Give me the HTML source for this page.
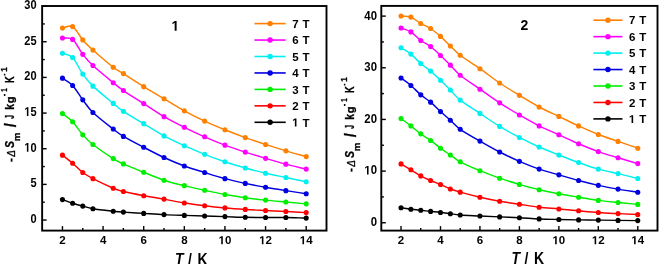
<!DOCTYPE html>
<html><head><meta charset="utf-8"><style>
html,body{margin:0;padding:0;background:#fff;width:659px;height:264px;overflow:hidden}
svg{display:block;filter:blur(0.3px)}
text{font-family:"Liberation Sans", sans-serif;fill:#000}
.tk{font-size:11.5px;font-weight:bold}
.al{font-size:14px;font-weight:bold}
.yl{font-size:13px;font-weight:bold}
.num{font-size:14px;font-weight:bold}
.lg{font-size:11.5px;font-weight:bold}
</style></head><body>
<svg width="659" height="264" viewBox="0 0 659 264">
<rect width="659" height="264" fill="#fff"/>
<path d="M62.46,199.61 C65.85,200.81 69.23,202.15 72.62,203.23 C76,204.31 79.39,205.16 82.77,206.08 C86.16,206.99 87.85,207.85 92.93,208.71 C98,209.56 108.16,210.63 113.24,211.19 C118.32,211.76 118.32,211.75 123.39,212.12 C128.47,212.49 136.93,212.98 143.7,213.4 C150.47,213.81 157.24,214.28 164.01,214.61 C170.78,214.94 177.55,215.15 184.33,215.39 C191.1,215.63 197.87,215.83 204.64,216.03 C211.41,216.23 218.18,216.38 224.95,216.6 C231.72,216.81 238.49,217.16 245.26,217.31 C252.03,217.46 258.8,217.49 265.57,217.52 C272.34,217.56 279.11,217.43 285.88,217.52 C292.65,217.62 299.42,217.9 306.19,218.09" fill="none" stroke="#000000" stroke-width="1.45" stroke-linejoin="round"/>
<circle cx="62.46" cy="199.61" r="2.55" fill="#000000"/>
<circle cx="72.62" cy="203.23" r="2.55" fill="#000000"/>
<circle cx="82.77" cy="206.08" r="2.55" fill="#000000"/>
<circle cx="92.93" cy="208.71" r="2.55" fill="#000000"/>
<circle cx="113.24" cy="211.19" r="2.55" fill="#000000"/>
<circle cx="123.39" cy="212.12" r="2.55" fill="#000000"/>
<circle cx="143.7" cy="213.4" r="2.55" fill="#000000"/>
<circle cx="164.01" cy="214.61" r="2.55" fill="#000000"/>
<circle cx="184.33" cy="215.39" r="2.55" fill="#000000"/>
<circle cx="204.64" cy="216.03" r="2.55" fill="#000000"/>
<circle cx="224.95" cy="216.6" r="2.55" fill="#000000"/>
<circle cx="245.26" cy="217.31" r="2.55" fill="#000000"/>
<circle cx="265.57" cy="217.52" r="2.55" fill="#000000"/>
<circle cx="285.88" cy="217.52" r="2.55" fill="#000000"/>
<circle cx="306.19" cy="218.09" r="2.55" fill="#000000"/>
<path d="M62.46,155.17 C65.85,157.85 69.23,160.31 72.62,163.2 C76,166.09 79.39,169.94 82.77,172.52 C86.16,175.09 87.85,176.01 92.93,178.63 C98,181.25 108.16,186.07 113.24,188.23 C118.32,190.39 118.32,190.33 123.39,191.57 C128.47,192.82 136.93,194.44 143.7,195.69 C150.47,196.95 157.24,197.89 164.01,199.11 C170.78,200.33 177.55,201.9 184.33,203.02 C191.1,204.13 197.87,204.97 204.64,205.79 C211.41,206.61 218.18,207.32 224.95,207.92 C231.72,208.53 238.49,208.99 245.26,209.42 C252.03,209.84 258.8,210.14 265.57,210.48 C272.34,210.83 279.11,211.12 285.88,211.48 C292.65,211.83 299.42,212.24 306.19,212.62" fill="none" stroke="#FF0000" stroke-width="1.45" stroke-linejoin="round"/>
<circle cx="62.46" cy="155.17" r="2.55" fill="#FF0000"/>
<circle cx="72.62" cy="163.2" r="2.55" fill="#FF0000"/>
<circle cx="82.77" cy="172.52" r="2.55" fill="#FF0000"/>
<circle cx="92.93" cy="178.63" r="2.55" fill="#FF0000"/>
<circle cx="113.24" cy="188.23" r="2.55" fill="#FF0000"/>
<circle cx="123.39" cy="191.57" r="2.55" fill="#FF0000"/>
<circle cx="143.7" cy="195.69" r="2.55" fill="#FF0000"/>
<circle cx="164.01" cy="199.11" r="2.55" fill="#FF0000"/>
<circle cx="184.33" cy="203.02" r="2.55" fill="#FF0000"/>
<circle cx="204.64" cy="205.79" r="2.55" fill="#FF0000"/>
<circle cx="224.95" cy="207.92" r="2.55" fill="#FF0000"/>
<circle cx="245.26" cy="209.42" r="2.55" fill="#FF0000"/>
<circle cx="265.57" cy="210.48" r="2.55" fill="#FF0000"/>
<circle cx="285.88" cy="211.48" r="2.55" fill="#FF0000"/>
<circle cx="306.19" cy="212.62" r="2.55" fill="#FF0000"/>
<path d="M62.46,113.57 C65.85,116.32 69.23,118.28 72.62,121.82 C76,125.37 79.39,131.05 82.77,134.83 C86.16,138.61 87.85,140.54 92.93,144.5 C98,148.46 108.16,155.35 113.24,158.58 C118.32,161.82 118.32,161.63 123.39,163.91 C128.47,166.2 136.93,169.59 143.7,172.3 C150.47,175.02 157.24,177.97 164.01,180.19 C170.78,182.42 177.55,183.99 184.33,185.67 C191.1,187.35 197.87,188.82 204.64,190.29 C211.41,191.76 218.18,193.25 224.95,194.49 C231.72,195.72 238.49,196.75 245.26,197.69 C252.03,198.62 258.8,199.38 265.57,200.1 C272.34,200.83 279.11,201.39 285.88,202.02 C292.65,202.65 299.42,203.26 306.19,203.87" fill="none" stroke="#00EE00" stroke-width="1.45" stroke-linejoin="round"/>
<circle cx="62.46" cy="113.57" r="2.55" fill="#00EE00"/>
<circle cx="72.62" cy="121.82" r="2.55" fill="#00EE00"/>
<circle cx="82.77" cy="134.83" r="2.55" fill="#00EE00"/>
<circle cx="92.93" cy="144.5" r="2.55" fill="#00EE00"/>
<circle cx="113.24" cy="158.58" r="2.55" fill="#00EE00"/>
<circle cx="123.39" cy="163.91" r="2.55" fill="#00EE00"/>
<circle cx="143.7" cy="172.3" r="2.55" fill="#00EE00"/>
<circle cx="164.01" cy="180.19" r="2.55" fill="#00EE00"/>
<circle cx="184.33" cy="185.67" r="2.55" fill="#00EE00"/>
<circle cx="204.64" cy="190.29" r="2.55" fill="#00EE00"/>
<circle cx="224.95" cy="194.49" r="2.55" fill="#00EE00"/>
<circle cx="245.26" cy="197.69" r="2.55" fill="#00EE00"/>
<circle cx="265.57" cy="200.1" r="2.55" fill="#00EE00"/>
<circle cx="285.88" cy="202.02" r="2.55" fill="#00EE00"/>
<circle cx="306.19" cy="203.87" r="2.55" fill="#00EE00"/>
<path d="M62.46,78.17 C65.85,80.61 69.23,81.88 72.62,85.49 C76,89.1 79.39,95.35 82.77,99.85 C86.16,104.36 87.85,107.64 92.93,112.51 C98,117.38 108.16,125.09 113.24,129.07 C118.32,133.06 118.32,133.36 123.39,136.4 C128.47,139.43 136.93,143.76 143.7,147.28 C150.47,150.8 157.24,154.4 164.01,157.51 C170.78,160.63 177.55,163.47 184.33,165.98 C191.1,168.48 197.87,170.41 204.64,172.52 C211.41,174.63 218.18,176.82 224.95,178.63 C231.72,180.44 238.49,181.95 245.26,183.39 C252.03,184.84 258.8,186.1 265.57,187.31 C272.34,188.51 279.11,189.58 285.88,190.65 C292.65,191.71 299.42,192.68 306.19,193.7" fill="none" stroke="#0000E0" stroke-width="1.45" stroke-linejoin="round"/>
<circle cx="62.46" cy="78.17" r="2.55" fill="#0000E0"/>
<circle cx="72.62" cy="85.49" r="2.55" fill="#0000E0"/>
<circle cx="82.77" cy="99.85" r="2.55" fill="#0000E0"/>
<circle cx="92.93" cy="112.51" r="2.55" fill="#0000E0"/>
<circle cx="113.24" cy="129.07" r="2.55" fill="#0000E0"/>
<circle cx="123.39" cy="136.4" r="2.55" fill="#0000E0"/>
<circle cx="143.7" cy="147.28" r="2.55" fill="#0000E0"/>
<circle cx="164.01" cy="157.51" r="2.55" fill="#0000E0"/>
<circle cx="184.33" cy="165.98" r="2.55" fill="#0000E0"/>
<circle cx="204.64" cy="172.52" r="2.55" fill="#0000E0"/>
<circle cx="224.95" cy="178.63" r="2.55" fill="#0000E0"/>
<circle cx="245.26" cy="183.39" r="2.55" fill="#0000E0"/>
<circle cx="265.57" cy="187.31" r="2.55" fill="#0000E0"/>
<circle cx="285.88" cy="190.65" r="2.55" fill="#0000E0"/>
<circle cx="306.19" cy="193.7" r="2.55" fill="#0000E0"/>
<path d="M62.46,53.21 C65.85,54.63 69.23,53.99 72.62,57.48 C76,60.96 79.39,69.34 82.77,74.11 C86.16,78.89 87.85,81.25 92.93,86.13 C98,91.01 108.16,99.2 113.24,103.41 C118.32,107.61 118.32,107.99 123.39,111.37 C128.47,114.75 136.93,119.58 143.7,123.67 C150.47,127.76 157.24,132.23 164.01,135.9 C170.78,139.57 177.55,142.64 184.33,145.71 C191.1,148.78 197.87,151.64 204.64,154.31 C211.41,156.99 218.18,159.5 224.95,161.78 C231.72,164.06 238.49,166.06 245.26,167.97 C252.03,169.87 258.8,171.64 265.57,173.23 C272.34,174.82 279.11,176.07 285.88,177.49 C292.65,178.92 299.42,180.34 306.19,181.76" fill="none" stroke="#00F0F0" stroke-width="1.45" stroke-linejoin="round"/>
<circle cx="62.46" cy="53.21" r="2.55" fill="#00F0F0"/>
<circle cx="72.62" cy="57.48" r="2.55" fill="#00F0F0"/>
<circle cx="82.77" cy="74.11" r="2.55" fill="#00F0F0"/>
<circle cx="92.93" cy="86.13" r="2.55" fill="#00F0F0"/>
<circle cx="113.24" cy="103.41" r="2.55" fill="#00F0F0"/>
<circle cx="123.39" cy="111.37" r="2.55" fill="#00F0F0"/>
<circle cx="143.7" cy="123.67" r="2.55" fill="#00F0F0"/>
<circle cx="164.01" cy="135.9" r="2.55" fill="#00F0F0"/>
<circle cx="184.33" cy="145.71" r="2.55" fill="#00F0F0"/>
<circle cx="204.64" cy="154.31" r="2.55" fill="#00F0F0"/>
<circle cx="224.95" cy="161.78" r="2.55" fill="#00F0F0"/>
<circle cx="245.26" cy="167.97" r="2.55" fill="#00F0F0"/>
<circle cx="265.57" cy="173.23" r="2.55" fill="#00F0F0"/>
<circle cx="285.88" cy="177.49" r="2.55" fill="#00F0F0"/>
<circle cx="306.19" cy="181.76" r="2.55" fill="#00F0F0"/>
<path d="M62.46,38 C65.85,38.47 69.23,36.69 72.62,39.42 C76,42.14 79.39,50 82.77,54.35 C86.16,58.7 87.85,60.78 92.93,65.51 C98,70.24 108.16,78.55 113.24,82.72 C118.32,86.89 118.32,87.05 123.39,90.54 C128.47,94.02 136.93,99.27 143.7,103.62 C150.47,107.97 157.24,112.69 164.01,116.63 C170.78,120.58 177.55,123.93 184.33,127.3 C191.1,130.66 197.87,133.85 204.64,136.82 C211.41,139.8 218.18,142.59 224.95,145.14 C231.72,147.69 238.49,149.91 245.26,152.11 C252.03,154.31 258.8,156.36 265.57,158.37 C272.34,160.37 279.11,162.34 285.88,164.13 C292.65,165.92 299.42,167.44 306.19,169.1" fill="none" stroke="#FF00FF" stroke-width="1.45" stroke-linejoin="round"/>
<circle cx="62.46" cy="38" r="2.55" fill="#FF00FF"/>
<circle cx="72.62" cy="39.42" r="2.55" fill="#FF00FF"/>
<circle cx="82.77" cy="54.35" r="2.55" fill="#FF00FF"/>
<circle cx="92.93" cy="65.51" r="2.55" fill="#FF00FF"/>
<circle cx="113.24" cy="82.72" r="2.55" fill="#FF00FF"/>
<circle cx="123.39" cy="90.54" r="2.55" fill="#FF00FF"/>
<circle cx="143.7" cy="103.62" r="2.55" fill="#FF00FF"/>
<circle cx="164.01" cy="116.63" r="2.55" fill="#FF00FF"/>
<circle cx="184.33" cy="127.3" r="2.55" fill="#FF00FF"/>
<circle cx="204.64" cy="136.82" r="2.55" fill="#FF00FF"/>
<circle cx="224.95" cy="145.14" r="2.55" fill="#FF00FF"/>
<circle cx="245.26" cy="152.11" r="2.55" fill="#FF00FF"/>
<circle cx="265.57" cy="158.37" r="2.55" fill="#FF00FF"/>
<circle cx="285.88" cy="164.13" r="2.55" fill="#FF00FF"/>
<circle cx="306.19" cy="169.1" r="2.55" fill="#FF00FF"/>
<path d="M62.46,28.04 C65.85,27.57 69.23,24.64 72.62,26.62 C76,28.6 79.39,36 82.77,39.91 C86.16,43.83 87.85,45.52 92.93,50.08 C98,54.64 108.16,63.37 113.24,67.29 C118.32,71.21 118.32,70.39 123.39,73.62 C128.47,76.84 136.93,82.43 143.7,86.63 C150.47,90.82 157.24,94.74 164.01,98.79 C170.78,102.83 177.55,107.15 184.33,110.87 C191.1,114.59 197.87,117.96 204.64,121.11 C211.41,124.26 218.18,127.04 224.95,129.79 C231.72,132.53 238.49,135.17 245.26,137.61 C252.03,140.05 258.8,142.23 265.57,144.43 C272.34,146.64 279.11,148.8 285.88,150.83 C292.65,152.86 299.42,154.67 306.19,156.59" fill="none" stroke="#FF8000" stroke-width="1.45" stroke-linejoin="round"/>
<circle cx="62.46" cy="28.04" r="2.55" fill="#FF8000"/>
<circle cx="72.62" cy="26.62" r="2.55" fill="#FF8000"/>
<circle cx="82.77" cy="39.91" r="2.55" fill="#FF8000"/>
<circle cx="92.93" cy="50.08" r="2.55" fill="#FF8000"/>
<circle cx="113.24" cy="67.29" r="2.55" fill="#FF8000"/>
<circle cx="123.39" cy="73.62" r="2.55" fill="#FF8000"/>
<circle cx="143.7" cy="86.63" r="2.55" fill="#FF8000"/>
<circle cx="164.01" cy="98.79" r="2.55" fill="#FF8000"/>
<circle cx="184.33" cy="110.87" r="2.55" fill="#FF8000"/>
<circle cx="204.64" cy="121.11" r="2.55" fill="#FF8000"/>
<circle cx="224.95" cy="129.79" r="2.55" fill="#FF8000"/>
<circle cx="245.26" cy="137.61" r="2.55" fill="#FF8000"/>
<circle cx="265.57" cy="144.43" r="2.55" fill="#FF8000"/>
<circle cx="285.88" cy="150.83" r="2.55" fill="#FF8000"/>
<circle cx="306.19" cy="156.59" r="2.55" fill="#FF8000"/>
<rect x="42.15" y="6" width="284.35" height="224.6" fill="none" stroke="#000" stroke-width="1.9"/>
<line x1="62.46" y1="230.6" x2="62.46" y2="226.1" stroke="#000" stroke-width="1.4"/>
<line x1="82.77" y1="230.6" x2="82.77" y2="228" stroke="#000" stroke-width="1.4"/>
<line x1="103.08" y1="230.6" x2="103.08" y2="226.1" stroke="#000" stroke-width="1.4"/>
<line x1="123.39" y1="230.6" x2="123.39" y2="228" stroke="#000" stroke-width="1.4"/>
<line x1="143.7" y1="230.6" x2="143.7" y2="226.1" stroke="#000" stroke-width="1.4"/>
<line x1="164.01" y1="230.6" x2="164.01" y2="228" stroke="#000" stroke-width="1.4"/>
<line x1="184.33" y1="230.6" x2="184.33" y2="226.1" stroke="#000" stroke-width="1.4"/>
<line x1="204.64" y1="230.6" x2="204.64" y2="228" stroke="#000" stroke-width="1.4"/>
<line x1="224.95" y1="230.6" x2="224.95" y2="226.1" stroke="#000" stroke-width="1.4"/>
<line x1="245.26" y1="230.6" x2="245.26" y2="228" stroke="#000" stroke-width="1.4"/>
<line x1="265.57" y1="230.6" x2="265.57" y2="226.1" stroke="#000" stroke-width="1.4"/>
<line x1="285.88" y1="230.6" x2="285.88" y2="228" stroke="#000" stroke-width="1.4"/>
<line x1="306.19" y1="230.6" x2="306.19" y2="226.1" stroke="#000" stroke-width="1.4"/>
<line x1="42.15" y1="220.05" x2="46.65" y2="220.05" stroke="#000" stroke-width="1.4"/>
<line x1="42.15" y1="202.22" x2="44.75" y2="202.22" stroke="#000" stroke-width="1.4"/>
<line x1="42.15" y1="184.39" x2="46.65" y2="184.39" stroke="#000" stroke-width="1.4"/>
<line x1="42.15" y1="166.56" x2="44.75" y2="166.56" stroke="#000" stroke-width="1.4"/>
<line x1="42.15" y1="148.73" x2="46.65" y2="148.73" stroke="#000" stroke-width="1.4"/>
<line x1="42.15" y1="130.9" x2="44.75" y2="130.9" stroke="#000" stroke-width="1.4"/>
<line x1="42.15" y1="113.07" x2="46.65" y2="113.07" stroke="#000" stroke-width="1.4"/>
<line x1="42.15" y1="95.24" x2="44.75" y2="95.24" stroke="#000" stroke-width="1.4"/>
<line x1="42.15" y1="77.41" x2="46.65" y2="77.41" stroke="#000" stroke-width="1.4"/>
<line x1="42.15" y1="59.58" x2="44.75" y2="59.58" stroke="#000" stroke-width="1.4"/>
<line x1="42.15" y1="41.75" x2="46.65" y2="41.75" stroke="#000" stroke-width="1.4"/>
<line x1="42.15" y1="23.92" x2="44.75" y2="23.92" stroke="#000" stroke-width="1.4"/>
<line x1="42.15" y1="6.09" x2="46.65" y2="6.09" stroke="#000" stroke-width="1.4"/>
<text x="59.26" y="244.2" style="font-size:11.5px;font-weight:bold">2</text>
<text x="99.88" y="244.2" style="font-size:11.5px;font-weight:bold">4</text>
<text x="140.51" y="244.2" style="font-size:11.5px;font-weight:bold">6</text>
<text x="181.13" y="244.2" style="font-size:11.5px;font-weight:bold">8</text>
<path d="M221.23,244.2 L221.23,237.63 L219.34,238.81 L219.34,237.57 L221.32,236.29 L222.81,236.29 L222.81,244.2Z"/><text x="224.95" y="244.2" style="font-size:11.5px;font-weight:bold">0</text>
<path d="M261.86,244.2 L261.86,237.63 L259.96,238.81 L259.96,237.57 L261.94,236.29 L263.43,236.29 L263.43,244.2Z"/><text x="265.57" y="244.2" style="font-size:11.5px;font-weight:bold">2</text>
<path d="M302.48,244.2 L302.48,237.63 L300.58,238.81 L300.58,237.57 L302.56,236.29 L304.06,236.29 L304.06,244.2Z"/><text x="306.19" y="244.2" style="font-size:11.5px;font-weight:bold">4</text>
<g transform="translate(36.6,223.05) scale(0.87,1)"><text x="-7.06" y="0" style="font-size:12.7px;font-weight:bold">0</text></g>
<g transform="translate(36.6,187.39) scale(0.87,1)"><text x="-7.06" y="0" style="font-size:12.7px;font-weight:bold">5</text></g>
<g transform="translate(36.6,151.73) scale(0.87,1)"><path d="M-11.16,0 L-11.16,-7.26 L-13.26,-5.95 L-13.26,-7.32 L-11.07,-8.74 L-9.42,-8.74 L-9.42,0Z"/><text x="-7.06" y="0" style="font-size:12.7px;font-weight:bold">0</text></g>
<g transform="translate(36.6,116.07) scale(0.87,1)"><path d="M-11.16,0 L-11.16,-7.26 L-13.26,-5.95 L-13.26,-7.32 L-11.07,-8.74 L-9.42,-8.74 L-9.42,0Z"/><text x="-7.06" y="0" style="font-size:12.7px;font-weight:bold">5</text></g>
<g transform="translate(36.6,80.41) scale(0.87,1)"><text x="-14.13 -7.06" y="0" style="font-size:12.7px;font-weight:bold">20</text></g>
<g transform="translate(36.6,44.75) scale(0.87,1)"><text x="-14.13 -7.06" y="0" style="font-size:12.7px;font-weight:bold">25</text></g>
<g transform="translate(36.6,9.09) scale(0.87,1)"><text x="-14.13 -7.06" y="0" style="font-size:12.7px;font-weight:bold">30</text></g>
<text transform="translate(175,264.5) scale(1,1.15)" class="al" font-style="italic">T</text>
<text transform="translate(188,265) scale(1,1.15)" class="al">/</text>
<text transform="translate(197.5,264.5) scale(1,1.15)" class="al">K</text>
<g transform="translate(0,0)" stroke="#000" stroke-width="0.3">
<text transform="translate(13.88,161.96) rotate(-90) scale(1.03,1)" style="font-size:11.5px;font-weight:bold;font-style:normal">-</text>
<text transform="translate(14.9,156.81) rotate(-90) scale(0.89,1)" style="font-size:11.05px;font-weight:normal;font-style:italic">Δ</text>
<text transform="translate(14.08,148.03) rotate(-90) scale(0.89,1)" style="font-size:11.86px;font-weight:bold;font-style:italic">S</text>
<text transform="translate(19.8,141.35) rotate(-90) scale(1,1)" style="font-size:9.84px;font-weight:bold;font-style:normal">m</text>
<text transform="translate(15.99,127.34) rotate(-90) scale(0.94,1)" style="font-size:15.71px;font-weight:bold;font-style:normal">/</text>
<text transform="translate(14.28,118.8) rotate(-90) scale(0.57,1)" style="font-size:11.9px;font-weight:bold;font-style:normal">J</text>
<text transform="translate(14.4,109.73) rotate(-90) scale(0.83,1)" style="font-size:12.56px;font-weight:bold;font-style:normal">k</text>
<text transform="translate(14.28,103.16) rotate(-90) scale(1.02,1)" style="font-size:10.93px;font-weight:bold;font-style:normal">g</text>
<text transform="translate(7.15,96.29) rotate(-90) scale(0.88,1)" style="font-size:8.5px;font-weight:bold;font-style:normal">-</text>
<text transform="translate(7.2,91.79) rotate(-90) scale(0.71,1)" style="font-size:8.72px;font-weight:bold;font-style:normal">1</text>
<text transform="translate(14.4,83.12) rotate(-90) scale(0.77,1)" style="font-size:12.06px;font-weight:bold;font-style:normal">K</text>
<text transform="translate(7.15,75.52) rotate(-90) scale(0.65,1)" style="font-size:8.5px;font-weight:bold;font-style:normal">-</text>
<text transform="translate(7.2,71.71) rotate(-90) scale(0.94,1)" style="font-size:8.72px;font-weight:bold;font-style:normal">1</text>
</g>
<path d="M174.67,30.7 L174.67,22.7 L172.36,24.14 L172.36,22.63 L174.78,21.07 L176.6,21.07 L176.6,30.7Z"/>
<line x1="254.5" y1="23.6" x2="285.7" y2="23.6" stroke="#FF8000" stroke-width="1.6"/>
<circle cx="270.1" cy="23.6" r="2.7" fill="#FF8000"/>
<text x="292.2" y="27.8" style="font-size:11.5px;font-weight:bold">7</text><text x="302.49" y="27.8" style="font-size:11.5px;font-weight:bold">T</text>
<line x1="254.5" y1="40.05" x2="285.7" y2="40.05" stroke="#FF00FF" stroke-width="1.6"/>
<circle cx="270.1" cy="40.05" r="2.7" fill="#FF00FF"/>
<text x="292.2" y="44.25" style="font-size:11.5px;font-weight:bold">6</text><text x="302.49" y="44.25" style="font-size:11.5px;font-weight:bold">T</text>
<line x1="254.5" y1="56.5" x2="285.7" y2="56.5" stroke="#00F0F0" stroke-width="1.6"/>
<circle cx="270.1" cy="56.5" r="2.7" fill="#00F0F0"/>
<text x="292.2" y="60.7" style="font-size:11.5px;font-weight:bold">5</text><text x="302.49" y="60.7" style="font-size:11.5px;font-weight:bold">T</text>
<line x1="254.5" y1="72.95" x2="285.7" y2="72.95" stroke="#0000E0" stroke-width="1.6"/>
<circle cx="270.1" cy="72.95" r="2.7" fill="#0000E0"/>
<text x="292.2" y="77.15" style="font-size:11.5px;font-weight:bold">4</text><text x="302.49" y="77.15" style="font-size:11.5px;font-weight:bold">T</text>
<line x1="254.5" y1="89.4" x2="285.7" y2="89.4" stroke="#00EE00" stroke-width="1.6"/>
<circle cx="270.1" cy="89.4" r="2.7" fill="#00EE00"/>
<text x="292.2" y="93.6" style="font-size:11.5px;font-weight:bold">3</text><text x="302.49" y="93.6" style="font-size:11.5px;font-weight:bold">T</text>
<line x1="254.5" y1="105.85" x2="285.7" y2="105.85" stroke="#FF0000" stroke-width="1.6"/>
<circle cx="270.1" cy="105.85" r="2.7" fill="#FF0000"/>
<text x="292.2" y="110.05" style="font-size:11.5px;font-weight:bold">2</text><text x="302.49" y="110.05" style="font-size:11.5px;font-weight:bold">T</text>
<line x1="254.5" y1="122.3" x2="285.7" y2="122.3" stroke="#000000" stroke-width="1.6"/>
<circle cx="270.1" cy="122.3" r="2.7" fill="#000000"/>
<path d="M294.88,126.5 L294.88,119.93 L292.99,121.11 L292.99,119.87 L294.97,118.59 L296.46,118.59 L296.46,126.5Z"/><text x="302.49" y="126.5" style="font-size:11.5px;font-weight:bold">T</text>
<path d="M401.03,207.69 C404.32,208.19 407.6,208.75 410.89,209.18 C414.18,209.62 417.47,209.95 420.76,210.32 C424.05,210.68 427.33,211.04 430.62,211.4 C433.91,211.75 437.2,212.04 440.49,212.43 C443.77,212.81 447.06,213.28 450.35,213.71 C453.64,214.14 455.28,214.62 460.21,215 C465.15,215.38 473.37,215.66 479.94,215.98 C486.52,216.29 493.1,216.6 499.67,216.9 C506.25,217.2 512.82,217.44 519.4,217.78 C525.98,218.11 532.55,218.63 539.13,218.91 C545.7,219.19 552.28,219.31 558.86,219.48 C565.43,219.64 572.01,219.79 578.59,219.89 C585.16,219.99 591.74,220.01 598.31,220.1 C604.89,220.18 611.47,220.32 618.04,220.4 C624.62,220.49 631.2,220.54 637.77,220.61" fill="none" stroke="#000000" stroke-width="1.45" stroke-linejoin="round"/>
<circle cx="401.03" cy="207.69" r="2.55" fill="#000000"/>
<circle cx="410.89" cy="209.18" r="2.55" fill="#000000"/>
<circle cx="420.76" cy="210.32" r="2.55" fill="#000000"/>
<circle cx="430.62" cy="211.4" r="2.55" fill="#000000"/>
<circle cx="440.49" cy="212.43" r="2.55" fill="#000000"/>
<circle cx="450.35" cy="213.71" r="2.55" fill="#000000"/>
<circle cx="460.21" cy="215" r="2.55" fill="#000000"/>
<circle cx="479.94" cy="215.98" r="2.55" fill="#000000"/>
<circle cx="499.67" cy="216.9" r="2.55" fill="#000000"/>
<circle cx="519.4" cy="217.78" r="2.55" fill="#000000"/>
<circle cx="539.13" cy="218.91" r="2.55" fill="#000000"/>
<circle cx="558.86" cy="219.48" r="2.55" fill="#000000"/>
<circle cx="578.59" cy="219.89" r="2.55" fill="#000000"/>
<circle cx="598.31" cy="220.1" r="2.55" fill="#000000"/>
<circle cx="618.04" cy="220.4" r="2.55" fill="#000000"/>
<circle cx="637.77" cy="220.61" r="2.55" fill="#000000"/>
<path d="M401.03,163.88 C404.32,165.86 407.6,167.81 410.89,169.8 C414.18,171.8 417.47,174.09 420.76,175.88 C424.05,177.66 427.33,179.07 430.62,180.51 C433.91,181.95 437.2,183.12 440.49,184.53 C443.77,185.93 447.06,187.68 450.35,188.95 C453.64,190.22 455.28,190.77 460.21,192.14 C465.15,193.52 473.37,195.68 479.94,197.19 C486.52,198.7 493.1,200.03 499.67,201.2 C506.25,202.38 512.82,203.25 519.4,204.24 C525.98,205.24 532.55,206.39 539.13,207.18 C545.7,207.96 552.28,208.32 558.86,208.93 C565.43,209.53 572.01,210.19 578.59,210.78 C585.16,211.37 591.74,212.01 598.31,212.48 C604.89,212.95 611.47,213.26 618.04,213.61 C624.62,213.96 631.2,214.26 637.77,214.59" fill="none" stroke="#FF0000" stroke-width="1.45" stroke-linejoin="round"/>
<circle cx="401.03" cy="163.88" r="2.55" fill="#FF0000"/>
<circle cx="410.89" cy="169.8" r="2.55" fill="#FF0000"/>
<circle cx="420.76" cy="175.88" r="2.55" fill="#FF0000"/>
<circle cx="430.62" cy="180.51" r="2.55" fill="#FF0000"/>
<circle cx="440.49" cy="184.53" r="2.55" fill="#FF0000"/>
<circle cx="450.35" cy="188.95" r="2.55" fill="#FF0000"/>
<circle cx="460.21" cy="192.14" r="2.55" fill="#FF0000"/>
<circle cx="479.94" cy="197.19" r="2.55" fill="#FF0000"/>
<circle cx="499.67" cy="201.2" r="2.55" fill="#FF0000"/>
<circle cx="519.4" cy="204.24" r="2.55" fill="#FF0000"/>
<circle cx="539.13" cy="207.18" r="2.55" fill="#FF0000"/>
<circle cx="558.86" cy="208.93" r="2.55" fill="#FF0000"/>
<circle cx="578.59" cy="210.78" r="2.55" fill="#FF0000"/>
<circle cx="598.31" cy="212.48" r="2.55" fill="#FF0000"/>
<circle cx="618.04" cy="213.61" r="2.55" fill="#FF0000"/>
<circle cx="637.77" cy="214.59" r="2.55" fill="#FF0000"/>
<path d="M401.03,118.59 C404.32,121.02 407.6,123.35 410.89,125.9 C414.18,128.44 417.47,131.45 420.76,133.87 C424.05,136.3 427.33,138.08 430.62,140.46 C433.91,142.85 437.2,145.77 440.49,148.18 C443.77,150.6 447.06,152.71 450.35,154.98 C453.64,157.24 455.28,159.16 460.21,161.77 C465.15,164.39 473.37,167.94 479.94,170.68 C486.52,173.42 493.1,175.9 499.67,178.19 C506.25,180.49 512.82,182.49 519.4,184.42 C525.98,186.35 532.55,188.22 539.13,189.78 C545.7,191.34 552.28,192.56 558.86,193.79 C565.43,195.03 572.01,196.09 578.59,197.19 C585.16,198.29 591.74,199.5 598.31,200.38 C604.89,201.26 611.47,201.82 618.04,202.49 C624.62,203.16 631.2,203.76 637.77,204.4" fill="none" stroke="#00EE00" stroke-width="1.45" stroke-linejoin="round"/>
<circle cx="401.03" cy="118.59" r="2.55" fill="#00EE00"/>
<circle cx="410.89" cy="125.9" r="2.55" fill="#00EE00"/>
<circle cx="420.76" cy="133.87" r="2.55" fill="#00EE00"/>
<circle cx="430.62" cy="140.46" r="2.55" fill="#00EE00"/>
<circle cx="440.49" cy="148.18" r="2.55" fill="#00EE00"/>
<circle cx="450.35" cy="154.98" r="2.55" fill="#00EE00"/>
<circle cx="460.21" cy="161.77" r="2.55" fill="#00EE00"/>
<circle cx="479.94" cy="170.68" r="2.55" fill="#00EE00"/>
<circle cx="499.67" cy="178.19" r="2.55" fill="#00EE00"/>
<circle cx="519.4" cy="184.42" r="2.55" fill="#00EE00"/>
<circle cx="539.13" cy="189.78" r="2.55" fill="#00EE00"/>
<circle cx="558.86" cy="193.79" r="2.55" fill="#00EE00"/>
<circle cx="578.59" cy="197.19" r="2.55" fill="#00EE00"/>
<circle cx="598.31" cy="200.38" r="2.55" fill="#00EE00"/>
<circle cx="618.04" cy="202.49" r="2.55" fill="#00EE00"/>
<circle cx="637.77" cy="204.4" r="2.55" fill="#00EE00"/>
<path d="M401.03,78.02 C404.32,80.5 407.6,82.63 410.89,85.44 C414.18,88.24 417.47,92.07 420.76,94.86 C424.05,97.64 427.33,99.38 430.62,102.17 C433.91,104.95 437.2,108.58 440.49,111.59 C443.77,114.59 447.06,117.23 450.35,120.18 C453.64,123.13 455.28,125.81 460.21,129.29 C465.15,132.78 473.37,137.3 479.94,141.08 C486.52,144.86 493.1,148.61 499.67,151.99 C506.25,155.37 512.82,158.51 519.4,161.36 C525.98,164.21 532.55,166.84 539.13,169.08 C545.7,171.33 552.28,172.94 558.86,174.85 C565.43,176.76 572.01,178.81 578.59,180.56 C585.16,182.31 591.74,183.93 598.31,185.35 C604.89,186.77 611.47,187.95 618.04,189.11 C624.62,190.27 631.2,191.24 637.77,192.3" fill="none" stroke="#0000E0" stroke-width="1.45" stroke-linejoin="round"/>
<circle cx="401.03" cy="78.02" r="2.55" fill="#0000E0"/>
<circle cx="410.89" cy="85.44" r="2.55" fill="#0000E0"/>
<circle cx="420.76" cy="94.86" r="2.55" fill="#0000E0"/>
<circle cx="430.62" cy="102.17" r="2.55" fill="#0000E0"/>
<circle cx="440.49" cy="111.59" r="2.55" fill="#0000E0"/>
<circle cx="450.35" cy="120.18" r="2.55" fill="#0000E0"/>
<circle cx="460.21" cy="129.29" r="2.55" fill="#0000E0"/>
<circle cx="479.94" cy="141.08" r="2.55" fill="#0000E0"/>
<circle cx="499.67" cy="151.99" r="2.55" fill="#0000E0"/>
<circle cx="519.4" cy="161.36" r="2.55" fill="#0000E0"/>
<circle cx="539.13" cy="169.08" r="2.55" fill="#0000E0"/>
<circle cx="558.86" cy="174.85" r="2.55" fill="#0000E0"/>
<circle cx="578.59" cy="180.56" r="2.55" fill="#0000E0"/>
<circle cx="598.31" cy="185.35" r="2.55" fill="#0000E0"/>
<circle cx="618.04" cy="189.11" r="2.55" fill="#0000E0"/>
<circle cx="637.77" cy="192.3" r="2.55" fill="#0000E0"/>
<path d="M401.03,47.76 C404.32,49.87 407.6,51.47 410.89,54.09 C414.18,56.71 417.47,60.63 420.76,63.46 C424.05,66.29 427.33,68.29 430.62,71.08 C433.91,73.86 437.2,77.03 440.49,80.19 C443.77,83.34 447.06,86.7 450.35,90.02 C453.64,93.34 455.28,96.21 460.21,100.11 C465.15,104 473.37,109 479.94,113.39 C486.52,117.77 493.1,122.4 499.67,126.41 C506.25,130.43 512.82,134.05 519.4,137.48 C525.98,140.91 532.55,144.08 539.13,147 C545.7,149.92 552.28,152.4 558.86,154.98 C565.43,157.56 572.01,160.14 578.59,162.49 C585.16,164.85 591.74,167.23 598.31,169.08 C604.89,170.94 611.47,172.05 618.04,173.61 C624.62,175.17 631.2,176.84 637.77,178.45" fill="none" stroke="#00F0F0" stroke-width="1.45" stroke-linejoin="round"/>
<circle cx="401.03" cy="47.76" r="2.55" fill="#00F0F0"/>
<circle cx="410.89" cy="54.09" r="2.55" fill="#00F0F0"/>
<circle cx="420.76" cy="63.46" r="2.55" fill="#00F0F0"/>
<circle cx="430.62" cy="71.08" r="2.55" fill="#00F0F0"/>
<circle cx="440.49" cy="80.19" r="2.55" fill="#00F0F0"/>
<circle cx="450.35" cy="90.02" r="2.55" fill="#00F0F0"/>
<circle cx="460.21" cy="100.11" r="2.55" fill="#00F0F0"/>
<circle cx="479.94" cy="113.39" r="2.55" fill="#00F0F0"/>
<circle cx="499.67" cy="126.41" r="2.55" fill="#00F0F0"/>
<circle cx="519.4" cy="137.48" r="2.55" fill="#00F0F0"/>
<circle cx="539.13" cy="147" r="2.55" fill="#00F0F0"/>
<circle cx="558.86" cy="154.98" r="2.55" fill="#00F0F0"/>
<circle cx="578.59" cy="162.49" r="2.55" fill="#00F0F0"/>
<circle cx="598.31" cy="169.08" r="2.55" fill="#00F0F0"/>
<circle cx="618.04" cy="173.61" r="2.55" fill="#00F0F0"/>
<circle cx="637.77" cy="178.45" r="2.55" fill="#00F0F0"/>
<path d="M401.03,27.99 C404.32,29.29 407.6,29.82 410.89,31.9 C414.18,33.99 417.47,38.07 420.76,40.5 C424.05,42.93 427.33,43.97 430.62,46.47 C433.91,48.97 437.2,52.36 440.49,55.48 C443.77,58.59 447.06,61.87 450.35,65.16 C453.64,68.44 455.28,71.19 460.21,75.19 C465.15,79.2 473.37,84.59 479.94,89.19 C486.52,93.8 493.1,98.54 499.67,102.84 C506.25,107.13 512.82,111.14 519.4,114.98 C525.98,118.83 532.55,122.6 539.13,125.9 C545.7,129.19 552.28,131.77 558.86,134.75 C565.43,137.73 572.01,140.95 578.59,143.76 C585.16,146.56 591.74,149.26 598.31,151.58 C604.89,153.91 611.47,155.71 618.04,157.71 C624.62,159.71 631.2,161.62 637.77,163.58" fill="none" stroke="#FF00FF" stroke-width="1.45" stroke-linejoin="round"/>
<circle cx="401.03" cy="27.99" r="2.55" fill="#FF00FF"/>
<circle cx="410.89" cy="31.9" r="2.55" fill="#FF00FF"/>
<circle cx="420.76" cy="40.5" r="2.55" fill="#FF00FF"/>
<circle cx="430.62" cy="46.47" r="2.55" fill="#FF00FF"/>
<circle cx="440.49" cy="55.48" r="2.55" fill="#FF00FF"/>
<circle cx="450.35" cy="65.16" r="2.55" fill="#FF00FF"/>
<circle cx="460.21" cy="75.19" r="2.55" fill="#FF00FF"/>
<circle cx="479.94" cy="89.19" r="2.55" fill="#FF00FF"/>
<circle cx="499.67" cy="102.84" r="2.55" fill="#FF00FF"/>
<circle cx="519.4" cy="114.98" r="2.55" fill="#FF00FF"/>
<circle cx="539.13" cy="125.9" r="2.55" fill="#FF00FF"/>
<circle cx="558.86" cy="134.75" r="2.55" fill="#FF00FF"/>
<circle cx="578.59" cy="143.76" r="2.55" fill="#FF00FF"/>
<circle cx="598.31" cy="151.58" r="2.55" fill="#FF00FF"/>
<circle cx="618.04" cy="157.71" r="2.55" fill="#FF00FF"/>
<circle cx="637.77" cy="163.58" r="2.55" fill="#FF00FF"/>
<path d="M401.03,16 C404.32,16.36 407.6,15.83 410.89,17.08 C414.18,18.33 417.47,21.61 420.76,23.51 C424.05,25.42 427.33,26.36 430.62,28.51 C433.91,30.65 437.2,33.47 440.49,36.38 C443.77,39.29 447.06,42.82 450.35,45.96 C453.64,49.1 455.28,51.43 460.21,55.22 C465.15,59.01 473.37,64.07 479.94,68.71 C486.52,73.34 493.1,78.57 499.67,83.02 C506.25,87.46 512.82,91.37 519.4,95.37 C525.98,99.37 532.55,103.5 539.13,107 C545.7,110.51 552.28,113.28 558.86,116.42 C565.43,119.57 572.01,122.88 578.59,125.9 C585.16,128.91 591.74,131.91 598.31,134.49 C604.89,137.07 611.47,139.11 618.04,141.39 C624.62,143.67 631.2,145.92 637.77,148.18" fill="none" stroke="#FF8000" stroke-width="1.45" stroke-linejoin="round"/>
<circle cx="401.03" cy="16" r="2.55" fill="#FF8000"/>
<circle cx="410.89" cy="17.08" r="2.55" fill="#FF8000"/>
<circle cx="420.76" cy="23.51" r="2.55" fill="#FF8000"/>
<circle cx="430.62" cy="28.51" r="2.55" fill="#FF8000"/>
<circle cx="440.49" cy="36.38" r="2.55" fill="#FF8000"/>
<circle cx="450.35" cy="45.96" r="2.55" fill="#FF8000"/>
<circle cx="460.21" cy="55.22" r="2.55" fill="#FF8000"/>
<circle cx="479.94" cy="68.71" r="2.55" fill="#FF8000"/>
<circle cx="499.67" cy="83.02" r="2.55" fill="#FF8000"/>
<circle cx="519.4" cy="95.37" r="2.55" fill="#FF8000"/>
<circle cx="539.13" cy="107" r="2.55" fill="#FF8000"/>
<circle cx="558.86" cy="116.42" r="2.55" fill="#FF8000"/>
<circle cx="578.59" cy="125.9" r="2.55" fill="#FF8000"/>
<circle cx="598.31" cy="134.49" r="2.55" fill="#FF8000"/>
<circle cx="618.04" cy="141.39" r="2.55" fill="#FF8000"/>
<circle cx="637.77" cy="148.18" r="2.55" fill="#FF8000"/>
<rect x="381.3" y="5.9" width="276.2" height="224.7" fill="none" stroke="#000" stroke-width="1.9"/>
<line x1="401.03" y1="230.6" x2="401.03" y2="226.1" stroke="#000" stroke-width="1.4"/>
<line x1="420.76" y1="230.6" x2="420.76" y2="228" stroke="#000" stroke-width="1.4"/>
<line x1="440.49" y1="230.6" x2="440.49" y2="226.1" stroke="#000" stroke-width="1.4"/>
<line x1="460.21" y1="230.6" x2="460.21" y2="228" stroke="#000" stroke-width="1.4"/>
<line x1="479.94" y1="230.6" x2="479.94" y2="226.1" stroke="#000" stroke-width="1.4"/>
<line x1="499.67" y1="230.6" x2="499.67" y2="228" stroke="#000" stroke-width="1.4"/>
<line x1="519.4" y1="230.6" x2="519.4" y2="226.1" stroke="#000" stroke-width="1.4"/>
<line x1="539.13" y1="230.6" x2="539.13" y2="228" stroke="#000" stroke-width="1.4"/>
<line x1="558.86" y1="230.6" x2="558.86" y2="226.1" stroke="#000" stroke-width="1.4"/>
<line x1="578.59" y1="230.6" x2="578.59" y2="228" stroke="#000" stroke-width="1.4"/>
<line x1="598.31" y1="230.6" x2="598.31" y2="226.1" stroke="#000" stroke-width="1.4"/>
<line x1="618.04" y1="230.6" x2="618.04" y2="228" stroke="#000" stroke-width="1.4"/>
<line x1="637.77" y1="230.6" x2="637.77" y2="226.1" stroke="#000" stroke-width="1.4"/>
<line x1="381.3" y1="222.75" x2="385.8" y2="222.75" stroke="#000" stroke-width="1.4"/>
<line x1="381.3" y1="196.92" x2="383.9" y2="196.92" stroke="#000" stroke-width="1.4"/>
<line x1="381.3" y1="171.09" x2="385.8" y2="171.09" stroke="#000" stroke-width="1.4"/>
<line x1="381.3" y1="145.26" x2="383.9" y2="145.26" stroke="#000" stroke-width="1.4"/>
<line x1="381.3" y1="119.43" x2="385.8" y2="119.43" stroke="#000" stroke-width="1.4"/>
<line x1="381.3" y1="93.6" x2="383.9" y2="93.6" stroke="#000" stroke-width="1.4"/>
<line x1="381.3" y1="67.77" x2="385.8" y2="67.77" stroke="#000" stroke-width="1.4"/>
<line x1="381.3" y1="41.94" x2="383.9" y2="41.94" stroke="#000" stroke-width="1.4"/>
<line x1="381.3" y1="16.11" x2="385.8" y2="16.11" stroke="#000" stroke-width="1.4"/>
<text x="397.83" y="244.2" style="font-size:11.5px;font-weight:bold">2</text>
<text x="437.29" y="244.2" style="font-size:11.5px;font-weight:bold">4</text>
<text x="476.74" y="244.2" style="font-size:11.5px;font-weight:bold">6</text>
<text x="516.2" y="244.2" style="font-size:11.5px;font-weight:bold">8</text>
<path d="M555.15,244.2 L555.15,237.63 L553.25,238.81 L553.25,237.57 L555.23,236.29 L556.72,236.29 L556.72,244.2Z"/><text x="558.86" y="244.2" style="font-size:11.5px;font-weight:bold">0</text>
<path d="M594.6,244.2 L594.6,237.63 L592.7,238.81 L592.7,237.57 L594.69,236.29 L596.18,236.29 L596.18,244.2Z"/><text x="598.31" y="244.2" style="font-size:11.5px;font-weight:bold">2</text>
<path d="M634.06,244.2 L634.06,237.63 L632.16,238.81 L632.16,237.57 L634.14,236.29 L635.64,236.29 L635.64,244.2Z"/><text x="637.77" y="244.2" style="font-size:11.5px;font-weight:bold">4</text>
<g transform="translate(377,226.15) scale(0.91,1)"><text x="-6.95" y="0" style="font-size:12.5px;font-weight:bold">0</text></g>
<g transform="translate(377,174.49) scale(0.91,1)"><path d="M-10.99,0 L-10.99,-7.14 L-13.05,-5.85 L-13.05,-7.2 L-10.89,-8.6 L-9.27,-8.6 L-9.27,0Z"/><text x="-6.95" y="0" style="font-size:12.5px;font-weight:bold">0</text></g>
<g transform="translate(377,122.83) scale(0.91,1)"><text x="-13.9 -6.95" y="0" style="font-size:12.5px;font-weight:bold">20</text></g>
<g transform="translate(377,71.17) scale(0.91,1)"><text x="-13.9 -6.95" y="0" style="font-size:12.5px;font-weight:bold">30</text></g>
<g transform="translate(377,19.51) scale(0.91,1)"><text x="-13.9 -6.95" y="0" style="font-size:12.5px;font-weight:bold">40</text></g>
<text transform="translate(511.6,263.9) scale(1,1.15)" class="al" font-style="italic">T</text>
<text transform="translate(524.6,264.4) scale(1,1.15)" class="al">/</text>
<text transform="translate(534.1,263.9) scale(1,1.15)" class="al">K</text>
<g transform="translate(340,10)" stroke="#000" stroke-width="0.3">
<text transform="translate(13.88,161.96) rotate(-90) scale(1.03,1)" style="font-size:11.5px;font-weight:bold;font-style:normal">-</text>
<text transform="translate(14.9,156.81) rotate(-90) scale(0.89,1)" style="font-size:11.05px;font-weight:normal;font-style:italic">Δ</text>
<text transform="translate(14.08,148.03) rotate(-90) scale(0.89,1)" style="font-size:11.86px;font-weight:bold;font-style:italic">S</text>
<text transform="translate(19.8,141.35) rotate(-90) scale(1,1)" style="font-size:9.84px;font-weight:bold;font-style:normal">m</text>
<text transform="translate(15.99,127.34) rotate(-90) scale(0.94,1)" style="font-size:15.71px;font-weight:bold;font-style:normal">/</text>
<text transform="translate(14.28,118.8) rotate(-90) scale(0.57,1)" style="font-size:11.9px;font-weight:bold;font-style:normal">J</text>
<text transform="translate(14.4,109.73) rotate(-90) scale(0.83,1)" style="font-size:12.56px;font-weight:bold;font-style:normal">k</text>
<text transform="translate(14.28,103.16) rotate(-90) scale(1.02,1)" style="font-size:10.93px;font-weight:bold;font-style:normal">g</text>
<text transform="translate(7.15,96.29) rotate(-90) scale(0.88,1)" style="font-size:8.5px;font-weight:bold;font-style:normal">-</text>
<text transform="translate(7.2,91.79) rotate(-90) scale(0.71,1)" style="font-size:8.72px;font-weight:bold;font-style:normal">1</text>
<text transform="translate(14.4,83.12) rotate(-90) scale(0.77,1)" style="font-size:12.06px;font-weight:bold;font-style:normal">K</text>
<text transform="translate(7.15,75.52) rotate(-90) scale(0.65,1)" style="font-size:8.5px;font-weight:bold;font-style:normal">-</text>
<text transform="translate(7.2,71.71) rotate(-90) scale(0.94,1)" style="font-size:8.72px;font-weight:bold;font-style:normal">1</text>
</g>
<text x="520.61" y="30.4" style="font-size:14px;font-weight:bold">2</text>
<line x1="593.4" y1="20.2" x2="622.5" y2="20.2" stroke="#FF8000" stroke-width="1.6"/>
<circle cx="607.95" cy="20.2" r="2.7" fill="#FF8000"/>
<text x="628.9" y="24.4" style="font-size:11.5px;font-weight:bold">7</text><text x="639.19" y="24.4" style="font-size:11.5px;font-weight:bold">T</text>
<line x1="593.4" y1="36.65" x2="622.5" y2="36.65" stroke="#FF00FF" stroke-width="1.6"/>
<circle cx="607.95" cy="36.65" r="2.7" fill="#FF00FF"/>
<text x="628.9" y="40.85" style="font-size:11.5px;font-weight:bold">6</text><text x="639.19" y="40.85" style="font-size:11.5px;font-weight:bold">T</text>
<line x1="593.4" y1="53.1" x2="622.5" y2="53.1" stroke="#00F0F0" stroke-width="1.6"/>
<circle cx="607.95" cy="53.1" r="2.7" fill="#00F0F0"/>
<text x="628.9" y="57.3" style="font-size:11.5px;font-weight:bold">5</text><text x="639.19" y="57.3" style="font-size:11.5px;font-weight:bold">T</text>
<line x1="593.4" y1="69.55" x2="622.5" y2="69.55" stroke="#0000E0" stroke-width="1.6"/>
<circle cx="607.95" cy="69.55" r="2.7" fill="#0000E0"/>
<text x="628.9" y="73.75" style="font-size:11.5px;font-weight:bold">4</text><text x="639.19" y="73.75" style="font-size:11.5px;font-weight:bold">T</text>
<line x1="593.4" y1="86" x2="622.5" y2="86" stroke="#00EE00" stroke-width="1.6"/>
<circle cx="607.95" cy="86" r="2.7" fill="#00EE00"/>
<text x="628.9" y="90.2" style="font-size:11.5px;font-weight:bold">3</text><text x="639.19" y="90.2" style="font-size:11.5px;font-weight:bold">T</text>
<line x1="593.4" y1="102.45" x2="622.5" y2="102.45" stroke="#FF0000" stroke-width="1.6"/>
<circle cx="607.95" cy="102.45" r="2.7" fill="#FF0000"/>
<text x="628.9" y="106.65" style="font-size:11.5px;font-weight:bold">2</text><text x="639.19" y="106.65" style="font-size:11.5px;font-weight:bold">T</text>
<line x1="593.4" y1="118.9" x2="622.5" y2="118.9" stroke="#000000" stroke-width="1.6"/>
<circle cx="607.95" cy="118.9" r="2.7" fill="#000000"/>
<path d="M631.58,123.1 L631.58,116.53 L629.69,117.71 L629.69,116.47 L631.67,115.19 L633.16,115.19 L633.16,123.1Z"/><text x="639.19" y="123.1" style="font-size:11.5px;font-weight:bold">T</text>
</svg>
</body></html>
